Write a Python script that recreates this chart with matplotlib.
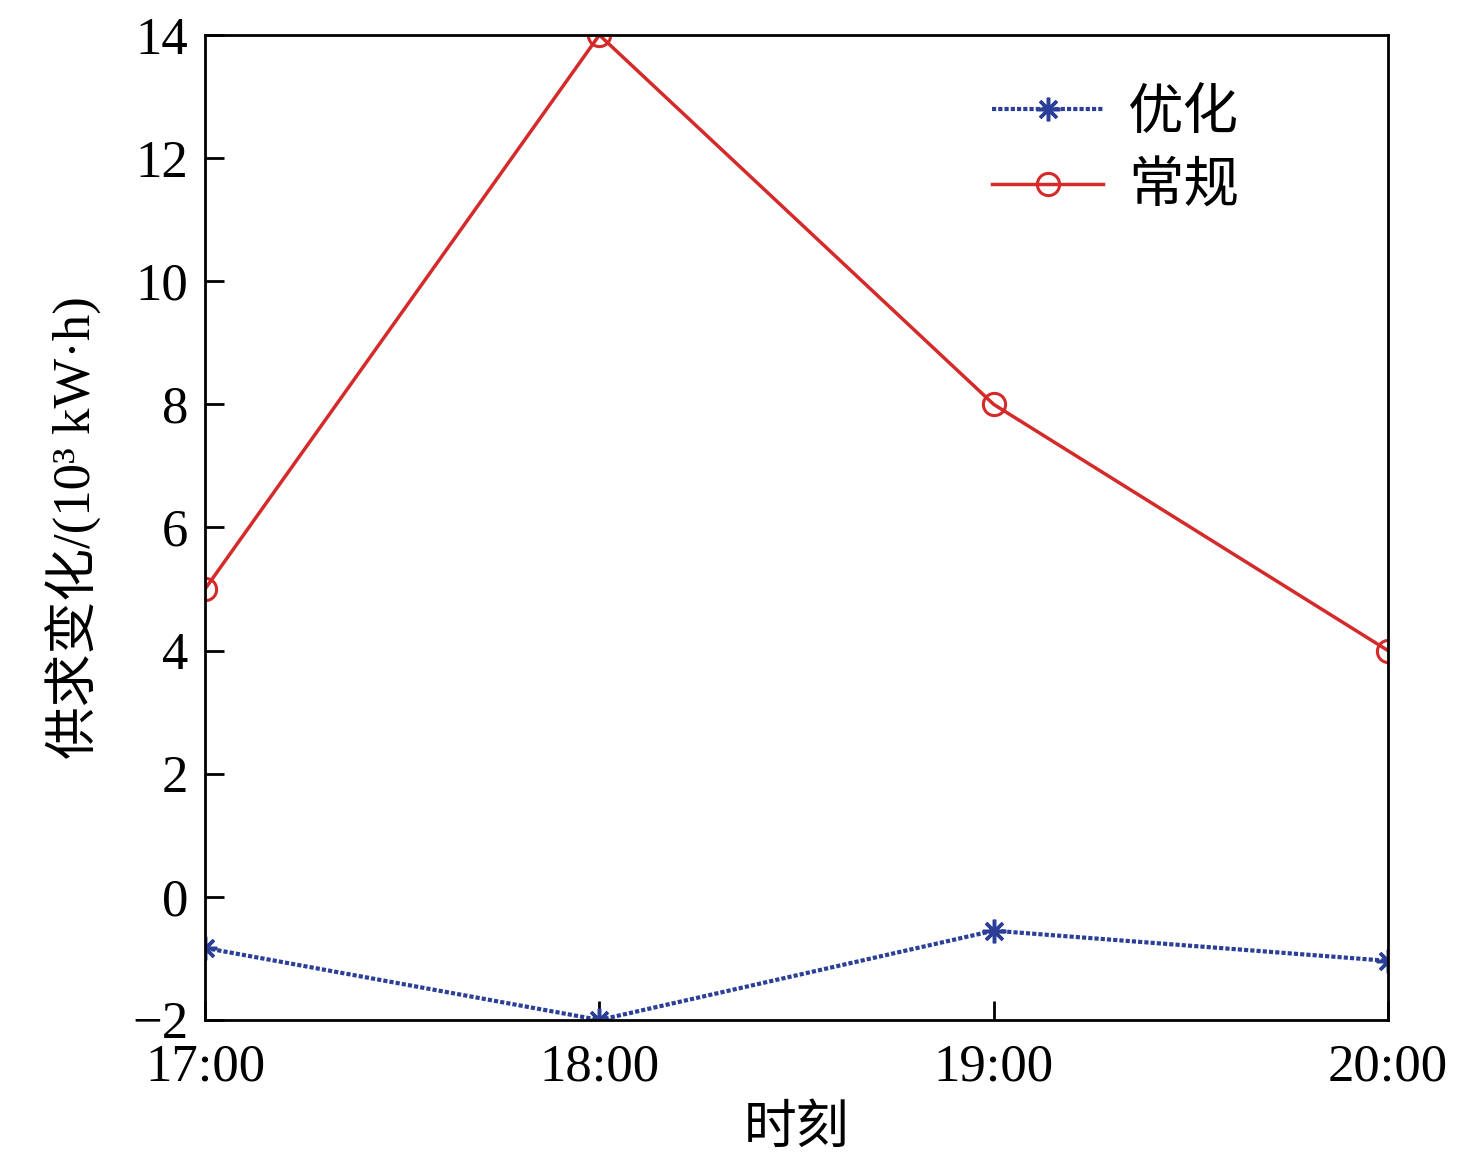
import matplotlib
matplotlib.use("Agg")
import matplotlib.pyplot as plt

times = ["17:00", "18:00", "19:00", "20:00"]
optimized = [-0.83, -2.0, -0.55, -1.04]
conventional = [5.0, 14.0, 8.0, 4.0]
yticks = [-2, 0, 2, 4, 6, 8, 10, 12, 14]

plt.rcParams['font.family'] = ['Liberation Serif', 'Noto Sans CJK SC']

fig = plt.figure(figsize=(14.76, 11.67), dpi=100)
ax = fig.add_axes([0.1389, 0.126, 0.8015, 0.844])
x = list(range(len(times)))
ax.plot(x, optimized, linestyle=(0, (1, 0.5)), color='#2b3f99', lw=3,
        marker=(8, 2, 0), markersize=17, markeredgewidth=2.5,
        label='优化')
ax.plot(x, conventional, linestyle='-', color='#d42a2a', lw=2.5,
        marker='o', markersize=16, markerfacecolor='none', markeredgewidth=2.2,
        label='常规')
ax.set_xlim(0, 3)
ax.set_ylim(-2, 14)
ax.set_xticks(x)
ax.set_xticklabels(times)
ax.set_yticks(yticks)
ax.set_yticklabels([str(v).replace('-', '\u2212') for v in yticks])
ax.tick_params(direction='in', length=14, width=2, labelsize=38, pad=12)
ax.tick_params(axis='x', pad=17)
for s in ax.spines.values():
    s.set_linewidth(2)
ax.set_xlabel('时刻', fontsize=38, labelpad=10)
ax.set_ylabel('供求变化/(10³ kW·h)', fontsize=38, labelpad=22)
ax.legend(loc='upper right', fontsize=40, frameon=False, handlelength=2.0,
          handletextpad=0.45, labelspacing=0.4,
          borderaxespad=0.0, bbox_to_anchor=(0.893, 0.968))
fig.savefig('out.png', dpi=100)
